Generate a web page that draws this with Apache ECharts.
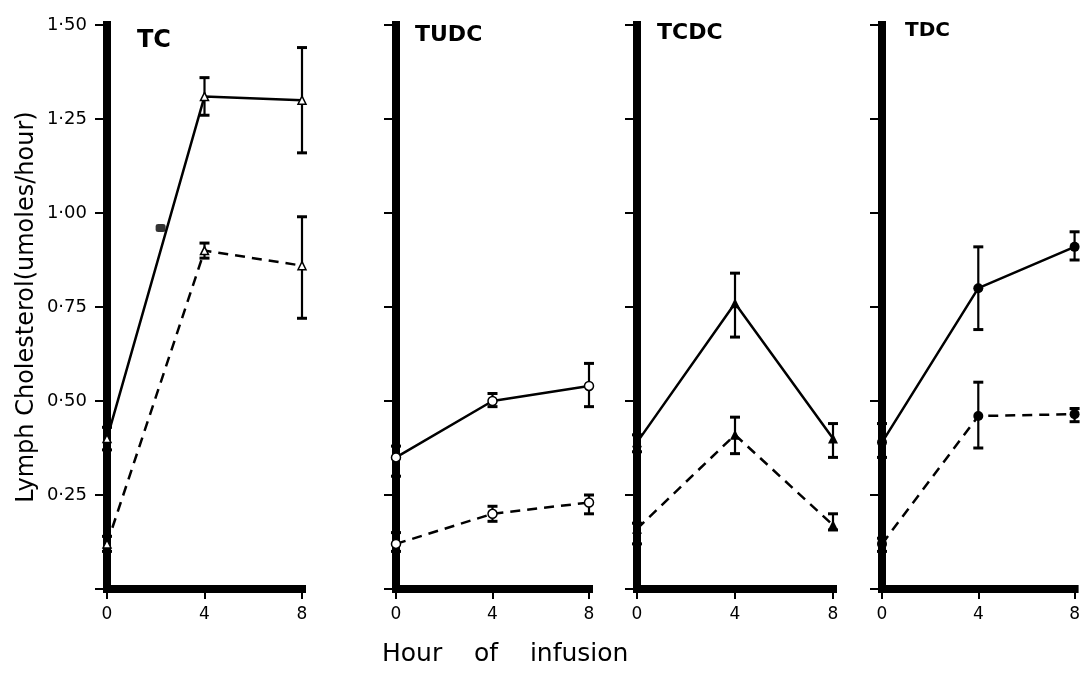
<!DOCTYPE html>
<html>
<head>
<meta charset="utf-8">
<script src="https://cdn.jsdelivr.net/npm/echarts@6/dist/echarts.min.js"></script>
<style>
  html, body { margin: 0; padding: 0; background: #fff; }
  #chart { width: 1083px; height: 689px; }
</style>
</head>
<body>
<div id="chart"></div>
<script>
// hours of infusion
var hours = [0, 4, 8];
var panelNames = ['TC', 'TUDC', 'TCDC', 'TDC'];
var yTicks = [0, 0.25, 0.5, 0.75, 1.0, 1.25, 1.5];
var yTickLabels = ['', '0·25', '0·50', '0·75', '1·00', '1·25', '1·50'];

// TC (open triangles)
var tcSolid = [0.40, 1.31, 1.30];
var tcSolidLow = [0.37, 1.26, 1.16];
var tcSolidHigh = [0.43, 1.36, 1.44];
var tcDash = [0.12, 0.90, 0.86];
var tcDashLow = [0.10, 0.88, 0.72];
var tcDashHigh = [0.14, 0.92, 0.99];
var tcBlob = [[2.2, 0.96]];

// TUDC (open circles)
var tudcSolid = [0.35, 0.50, 0.54];
var tudcSolidLow = [0.30, 0.485, 0.485];
var tudcSolidHigh = [0.38, 0.52, 0.60];
var tudcDash = [0.12, 0.20, 0.23];
var tudcDashLow = [0.10, 0.18, 0.20];
var tudcDashHigh = [0.15, 0.22, 0.25];

// TCDC (filled triangles)
var tcdcSolid = [0.39, 0.76, 0.40];
var tcdcSolidLow = [0.365, 0.67, 0.35];
var tcdcSolidHigh = [0.41, 0.84, 0.44];
var tcdcDash = [0.16, 0.41, 0.17];
var tcdcDashLow = [0.12, 0.36, 0.157];
var tcdcDashHigh = [0.175, 0.457, 0.20];

// TDC (filled circles)
var tdcSolid = [0.39, 0.80, 0.91];
var tdcSolidLow = [0.35, 0.69, 0.875];
var tdcSolidHigh = [0.44, 0.91, 0.95];
var tdcDash = [0.12, 0.46, 0.465];
var tdcDashLow = [0.10, 0.375, 0.445];
var tdcDashHigh = [0.135, 0.55, 0.48];

var FONT = 'DejaVu Sans';
var chart = echarts.init(document.getElementById('chart'));

// panel positions (px)
var gridLefts = [107, 396, 637, 882];
var gridWidths = [195, 193, 196, 195];

function pairs(vals) {
  return hours.map(function (h, i) { return [h, vals[i]]; });
}
function bars(low, high) {
  return hours.map(function (h, i) { return [h, low[i], high[i]]; });
}

function errorBarItem(params, api) {
  var x = api.value(0);
  var top = api.coord([x, api.value(2)]);
  var bot = api.coord([x, api.value(1)]);
  var hw = 5;
  var st = { stroke: '#000', lineWidth: 2.2 };
  var cap = { stroke: '#000', lineWidth: 3 };
  return {
    type: 'group',
    children: [
      { type: 'line', shape: { x1: top[0], y1: top[1], x2: bot[0], y2: bot[1] }, style: st },
      { type: 'line', shape: { x1: top[0] - hw, y1: top[1], x2: top[0] + hw, y2: top[1] }, style: cap },
      { type: 'line', shape: { x1: bot[0] - hw, y1: bot[1], x2: bot[0] + hw, y2: bot[1] }, style: cap }
    ]
  };
}

var panels = [
  { solid: tcSolid, sl: tcSolidLow, sh: tcSolidHigh, dash: tcDash, dl: tcDashLow, dh: tcDashHigh, symbol: 'triangle', filled: false, size: 8 },
  { solid: tudcSolid, sl: tudcSolidLow, sh: tudcSolidHigh, dash: tudcDash, dl: tudcDashLow, dh: tudcDashHigh, symbol: 'circle', filled: false, size: 9 },
  { solid: tcdcSolid, sl: tcdcSolidLow, sh: tcdcSolidHigh, dash: tcdcDash, dl: tcdcDashLow, dh: tcdcDashHigh, symbol: 'triangle', filled: true, size: 10 },
  { solid: tdcSolid, sl: tdcSolidLow, sh: tdcSolidHigh, dash: tdcDash, dl: tdcDashLow, dh: tdcDashHigh, symbol: 'circle', filled: true, size: 10 }
];

var grids = [], xAxes = [], yAxes = [], series = [];

panels.forEach(function (p, i) {
  grids.push({ left: gridLefts[i], top: 25, width: gridWidths[i], height: 564 });
  xAxes.push({
    type: 'value', gridIndex: i, min: 0, max: 8, interval: 4,
    splitLine: { show: false },
    axisLine: { lineStyle: { color: '#000', width: 8, cap: 'square' } },
    axisTick: { length: 10, lineStyle: { color: '#000', width: 2 } },
    axisLabel: { color: '#000', fontFamily: FONT, fontSize: 17, margin: 17 }
  });
  yAxes.push({
    type: 'value', gridIndex: i, min: 0, max: 1.5, interval: 0.25,
    splitLine: { show: false },
    axisLine: { show: true, lineStyle: { color: '#000', width: 8, cap: 'square' } },
    axisTick: { length: 12, lineStyle: { color: '#000', width: 2 } },
    axisLabel: {
      show: i === 0, color: '#000', fontFamily: FONT, fontSize: 18, margin: 20,
      formatter: function (v) { return yTickLabels[yTicks.indexOf(v)] || ''; }
    },
    name: i === 0 ? 'Lymph Cholesterol(umoles/hour)' : '',
    nameLocation: 'middle', nameGap: 68,
    nameTextStyle: { color: '#000', fontFamily: FONT, fontSize: 24 }
  });

  var itemStyle = p.filled
    ? { color: '#000' }
    : { color: '#fff', borderColor: '#000', borderWidth: 1.5 };

  series.push({
    type: 'custom', xAxisIndex: i, yAxisIndex: i, z: 1,
    renderItem: errorBarItem, data: bars(p.sl, p.sh)
  });
  series.push({
    type: 'custom', xAxisIndex: i, yAxisIndex: i, z: 1,
    renderItem: errorBarItem, data: bars(p.dl, p.dh)
  });
  series.push({
    type: 'line', xAxisIndex: i, yAxisIndex: i, z: 3,
    data: pairs(p.solid), symbol: p.symbol, symbolSize: p.size, showAllSymbol: true,
    lineStyle: { color: '#000', width: 2.5 }, itemStyle: itemStyle
  });
  series.push({
    type: 'line', xAxisIndex: i, yAxisIndex: i, z: 3,
    data: pairs(p.dash), symbol: p.symbol, symbolSize: p.size, showAllSymbol: true,
    lineStyle: { color: '#000', width: 2.5, type: [10, 7] }, itemStyle: itemStyle
  });
});

// ink blot on the TC solid line
series.push({
  type: 'scatter', xAxisIndex: 0, yAxisIndex: 0, z: 4,
  data: tcBlob, symbol: 'roundRect', symbolSize: [10, 8],
  itemStyle: { color: '#000' }
});

// panel titles
var titlePos = [[137, 29], [415, 24], [657, 22], [905, 21]];
var titleSize = [24, 22, 22, 20];
var graphics = panelNames.map(function (n, i) {
  return {
    type: 'text', left: titlePos[i][0], top: titlePos[i][1],
    style: { text: n, fill: '#000', font: '600 ' + titleSize[i] + 'px "' + FONT + '"' }
  };
});
graphics.push({
  type: 'text', left: 382, top: 642,
  style: { text: 'Hour    of    infusion', fill: '#000', font: '25px "' + FONT + '"' }
});

chart.setOption({
  animation: false,
  grid: grids,
  xAxis: xAxes,
  yAxis: yAxes,
  series: series,
  graphic: graphics
});
</script>
</body>
</html>
